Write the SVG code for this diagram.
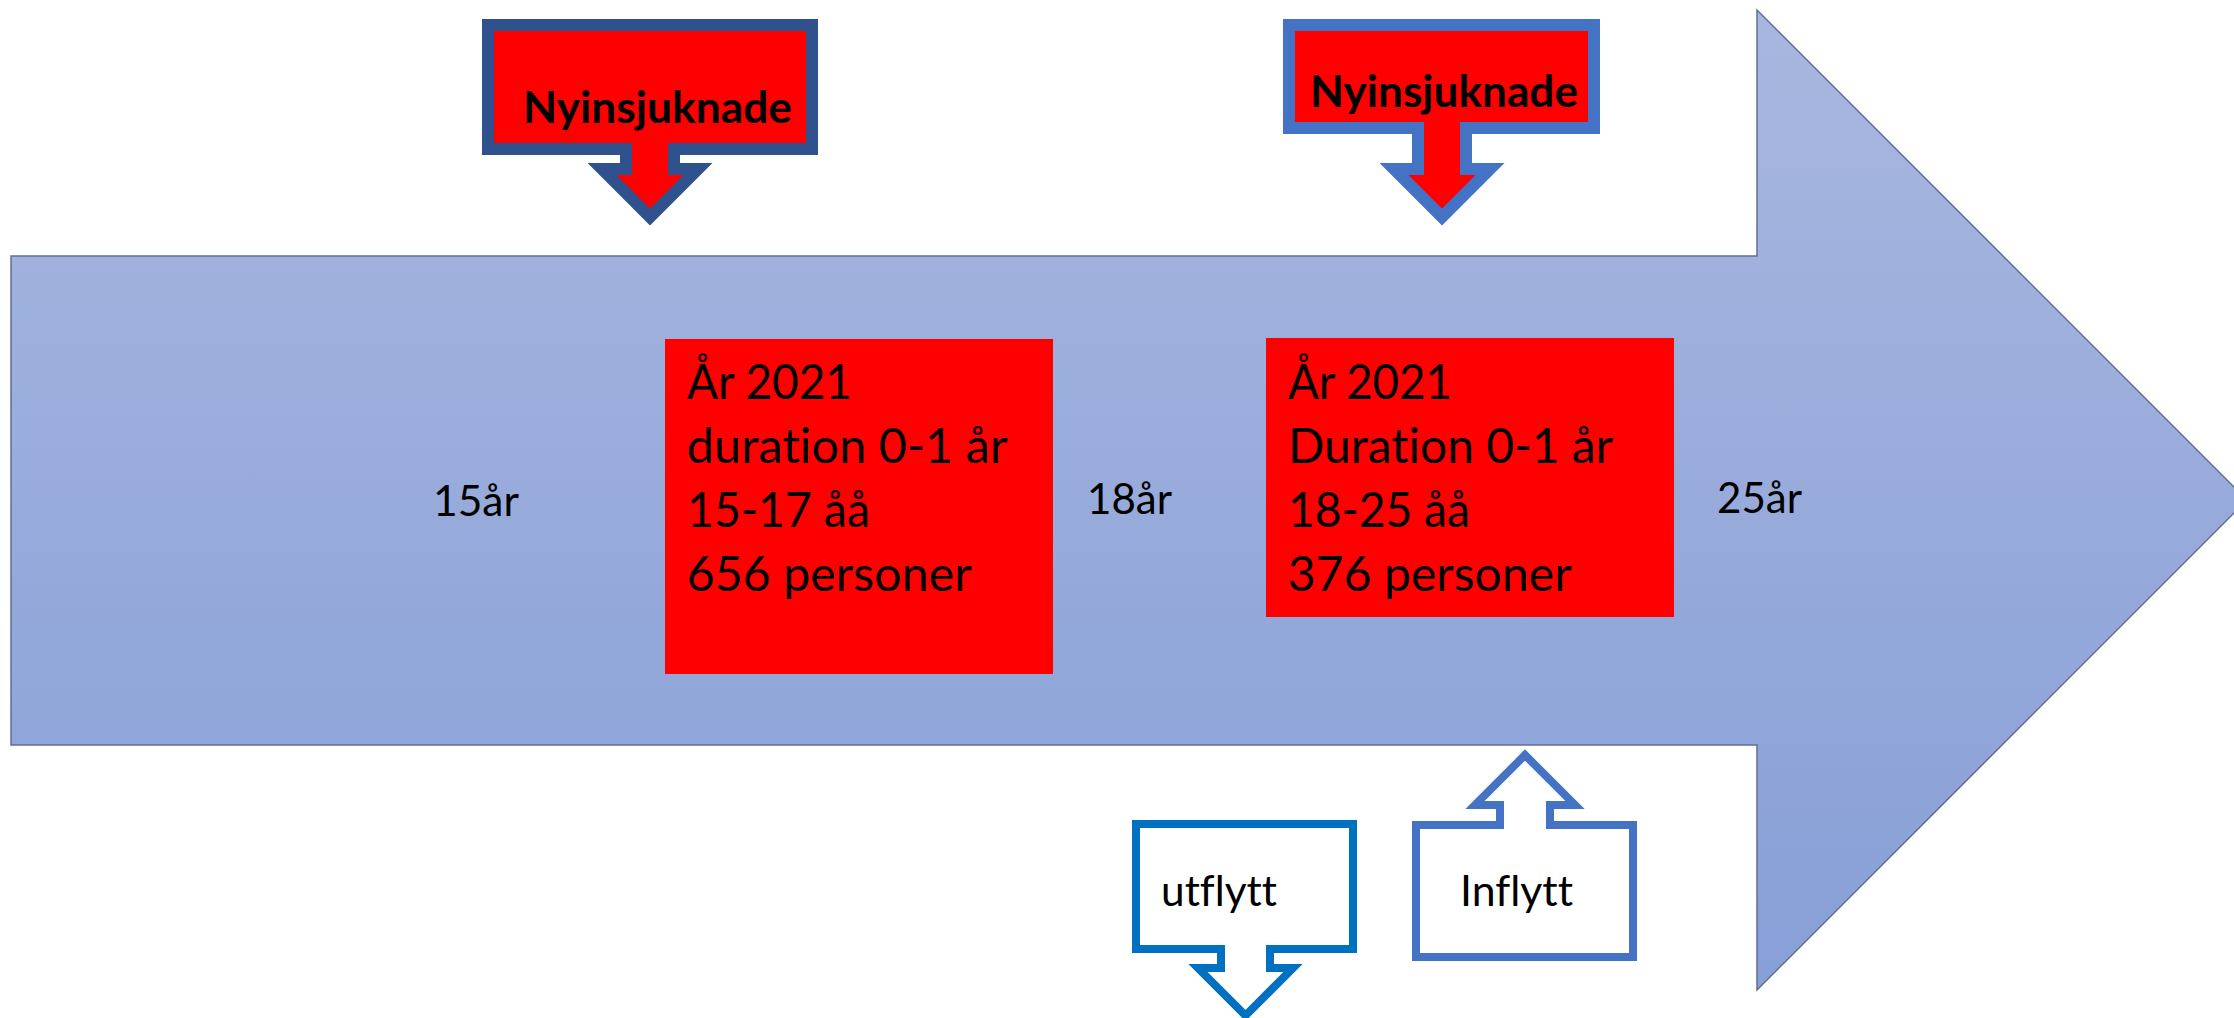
<svg xmlns="http://www.w3.org/2000/svg" width="2234" height="1018" viewBox="0 0 2234 1018">
  <defs>
    <linearGradient id="arrowGrad" x1="0" y1="0" x2="0" y2="1">
      <stop offset="0" stop-color="#a8b7df"/>
      <stop offset="1" stop-color="#879fd7"/>
    </linearGradient>
  </defs>
  <style>
    text { font-family: Lato, "Liberation Sans", sans-serif; fill: #000; font-variant-ligatures: none; font-feature-settings: "liga" 0, "clig" 0, "dlig" 0; }
    .box { font-size: 48px; }
    .lbl { font-size: 43px; }
    .nyi { font-size: 44px; font-weight: bold; }
    .redbox { fill: #ff0000; }
    .callout { fill: #ff0000; stroke-width: 12; stroke-linejoin: miter; stroke-miterlimit: 10; }
    .flow { fill: #ffffff; stroke-width: 8; stroke-linejoin: miter; stroke-miterlimit: 10; }
  </style>
  <rect width="2234" height="1018" fill="#ffffff"/>

  <g id="timeline-arrow">
    <path d="M11,256 L1757,256 L1757,10 L2247,500 L1757,990 L1757,745 L11,745 Z" fill="url(#arrowGrad)" stroke="#5f6f92" stroke-width="1.5"/>
    <text class="lbl" x="433" y="516" textLength="86" lengthAdjust="spacingAndGlyphs">15år</text>
    <text class="lbl" x="1087" y="514" textLength="85" lengthAdjust="spacingAndGlyphs">18år</text>
    <text class="lbl" x="1717" y="513" textLength="85" lengthAdjust="spacingAndGlyphs">25år</text>
  </g>

  <g id="box-15-17">
    <rect class="redbox" x="665" y="339" width="388" height="335"/>
    <text class="box" x="687" y="399" textLength="165" lengthAdjust="spacingAndGlyphs">År 2021</text>
    <text class="box" x="687" y="463" textLength="321" lengthAdjust="spacingAndGlyphs">duration 0-1 år</text>
    <text class="box" x="687" y="527" textLength="183" lengthAdjust="spacingAndGlyphs">15-17 åå</text>
    <text class="box" x="687" y="591" textLength="285" lengthAdjust="spacingAndGlyphs">656 personer</text>
  </g>

  <g id="box-18-25">
    <rect class="redbox" x="1266" y="338" width="408" height="279"/>
    <text class="box" x="1288" y="399" textLength="164" lengthAdjust="spacingAndGlyphs">År 2021</text>
    <text class="box" x="1288" y="463" textLength="325" lengthAdjust="spacingAndGlyphs">Duration 0-1 år</text>
    <text class="box" x="1288" y="527" textLength="182" lengthAdjust="spacingAndGlyphs">18-25 åå</text>
    <text class="box" x="1288" y="591" textLength="284" lengthAdjust="spacingAndGlyphs">376 personer</text>
  </g>

  <g id="callout-nyinsjuknade-1">
    <path class="callout" stroke="#2f528f" d="M488,25 H812 V149 H674 V169 H698 L650,217 L602,169 H626 V149 H488 Z"/>
    <text class="nyi" x="523" y="123" textLength="269" lengthAdjust="spacingAndGlyphs">Nyinsjuknade</text>
  </g>

  <g id="callout-nyinsjuknade-2">
    <path class="callout" stroke="#4472c4" d="M1289,25 H1594 V128 H1466 V169 H1490 L1442,217 L1394,169 H1418 V128 H1289 Z"/>
    <text class="nyi" x="1310" y="107" textLength="268" lengthAdjust="spacingAndGlyphs">Nyinsjuknade</text>
  </g>

  <g id="callout-utflytt">
    <path class="flow" stroke="#0070c0" d="M1136,824 H1353 V949 H1270 V968 H1293 L1245.5,1015.5 L1198,968 H1221 V949 H1136 Z"/>
    <text class="lbl" x="1161" y="906" textLength="116" lengthAdjust="spacingAndGlyphs">utflytt</text>
  </g>

  <g id="callout-inflytt">
    <path class="flow" stroke="#4472c4" d="M1416,825 H1500 V805 H1475 L1525,755 L1575,805 H1550 V825 H1633 V957 H1416 Z"/>
    <text class="lbl" x="1460" y="906" textLength="113" lengthAdjust="spacingAndGlyphs">Inflytt</text>
  </g>

  <g id="connectors"/>
</svg>
